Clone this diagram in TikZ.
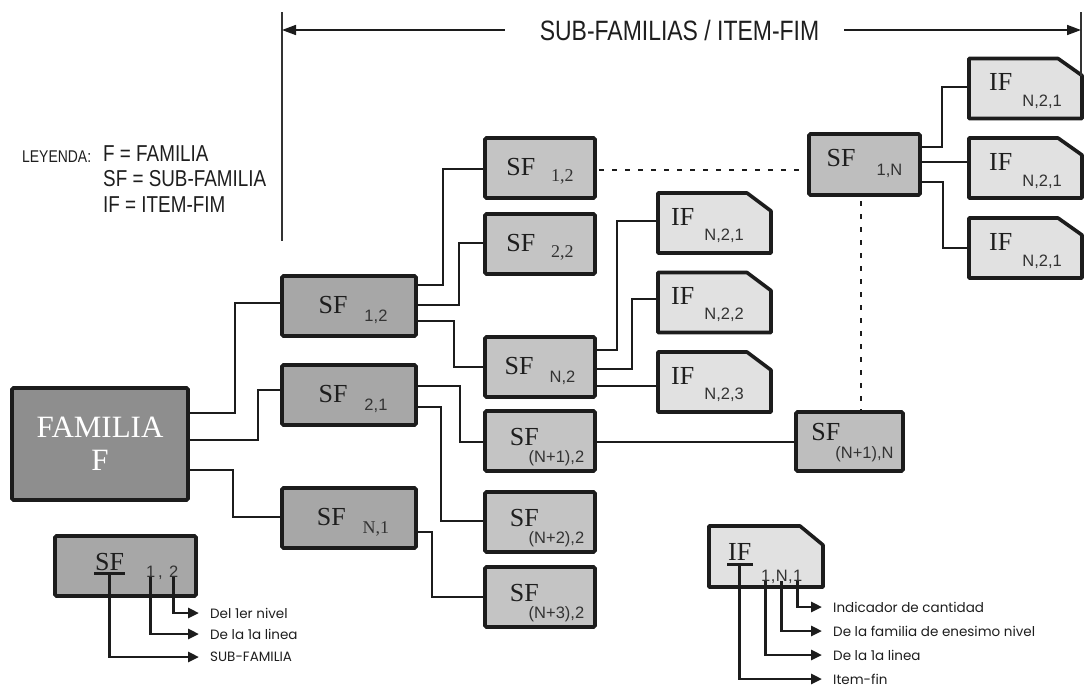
\documentclass[tikz,border=0pt]{standalone}
\usepackage{fontspec}
\setmainfont{Liberation Serif}
\newfontfamily\fSubFam{Liberation Sans}
\newfontfamily\fCondFam{Liberation Sans}[FakeStretch=0.82]
\newfontfamily\fPopFam{Poppins}
\usetikzlibrary{arrows.meta,calc,backgrounds}
\definecolor{famc}{HTML}{8E8E8E}
\definecolor{lonec}{HTML}{A7A7A7}
\definecolor{ltwoc}{HTML}{C4C4C4}
\definecolor{lthreec}{HTML}{BEBEBE}
\definecolor{ifc}{HTML}{E1E1E1}
\definecolor{edgec}{HTML}{1C1C1C}
\definecolor{textc}{HTML}{1E1E1E}
\definecolor{subc}{HTML}{333333}
\newcommand\fSub{\fSubFam\fontsize{16.5pt}{18pt}\selectfont}
\newcommand\fSubSer{\rmfamily\fontsize{18pt}{20pt}\selectfont}
\newcommand\fSer{\rmfamily\fontsize{26pt}{28pt}\selectfont}
\newcommand\boxlab[6]{\hspace*{#1}{\fSer #2}\hspace*{#3}\raisebox{-#4}{\fSub\color{subc}#5}\hspace*{#6}}
\newcommand\boxlabs[6]{\hspace*{#1}{\fSer #2}\hspace*{#3}\raisebox{-#4}{\fSubSer\color{subc}#5}\hspace*{#6}}
\begin{document}
\begin{tikzpicture}[x=1pt,y=-1pt,
  conn/.style={draw=edgec, line width=2.6pt},
  dots/.style={draw=edgec, line width=2.8pt, dash pattern=on 5pt off 8pt},
  thinl/.style={draw=subc, line width=1.6pt},
  hdrarr/.style={draw=edgec, line width=1.6pt, -{Triangle[length=14pt,width=10pt]}},
  legarr/.style={draw=edgec, line width=2.8pt, -{Triangle[length=11pt,width=10pt]}},
  bx/.style={draw=edgec, line width=3.6pt, rounded corners=1.5pt, inner sep=0pt, outer sep=0pt, text=textc},
  famb/.style={bx, fill=famc, minimum width=176pt, minimum height=112pt, align=center, text=white, font=\rmfamily\fontsize{31pt}{33pt}\selectfont},
  lone/.style={bx, fill=lonec, minimum width=134pt, minimum height=60pt},
  ltwo/.style={bx, fill=ltwoc, minimum width=110pt, minimum height=60pt},
  ifb/.style={inner sep=0pt, outer sep=0pt, minimum width=113pt, minimum height=60pt, text=textc},
  sideT/.style={text height=18pt, text depth=4pt},
  underT/.style={text height=18pt, text depth=10pt},
  ifT/.style={text height=18pt, text depth=14pt},
  legT/.style={inner sep=0pt, anchor=base west, text=textc, font=\fCondFam\fontsize{23pt}{25pt}\selectfont},
  legL/.style={anchor=west, inner xsep=11pt, inner ysep=0pt, text=textc, font=\fPopFam\fontsize{13.5pt}{15pt}\selectfont},
  glyph/.style={inner sep=0pt, anchor=base west, text=subc, font=\fSub},
  ifshape/.style={draw=edgec, line width=3.6pt, fill=ifc, line join=round}
]
\useasboundingbox (0,0) rectangle (1084,689);

% header
\node[inner xsep=0pt, inner ysep=0pt, text height=20pt, text depth=0pt, text=textc,
      font=\fCondFam\fontsize{28pt}{30pt}\selectfont] (hdr) at (679.5,30) {SUB-FAMILIAS / ITEM-FIM};
\coordinate (vL1) at (282,12);
\coordinate (vL2) at (282,241);
\coordinate (vR1) at (1081,12);
\coordinate (vR2) at (1081,76);
\draw[thinl] (vL1) -- (vL2);
\draw[thinl] (vR1) -- (vR2);
\draw[hdrarr] ([xshift=-35pt]hdr.west) -- (vL1 |- hdr.west);
\draw[hdrarr] ([xshift=25pt]hdr.east) -- (vR1 |- hdr.east);

% legend text
\node[legT, font=\fCondFam\fontsize{17pt}{19pt}\selectfont] (ley) at (22,162) {LEYENDA:};
\node[legT] (leyF) at (103,161) {F = FAMILIA};
\node[legT] (leySF) at (103,186) {SF = SUB-FAMILIA};
\node[legT] (leyIF) at (103,212) {IF = ITEM-FIM};

% main boxes
\node[famb] (F) at (100,444) {FAMILIA\\F};
\node[lone,sideT] (A12) at (349,306) {\boxlab{8pt}{SF}{17pt}{8pt}{1,2}{0pt}};
\node[lone,sideT] (A21) at (349,395) {\boxlab{8pt}{SF}{17pt}{8pt}{2,1}{0pt}};
\node[lone,sideT] (AN1) at (349,518) {\boxlabs{8pt}{SF}{17pt}{8pt}{N,1}{0pt}};

\node[ltwo,sideT] (B12) at (540,168) {\boxlabs{0pt}{SF}{16pt}{6pt}{1,2}{0pt}};
\node[ltwo,sideT] (B22) at (540,244) {\boxlabs{0pt}{SF}{16pt}{6pt}{2,2}{0pt}};
\node[ltwo,sideT] (BN2) at (540,367) {\boxlab{0pt}{SF}{16pt}{8pt}{N,2}{0pt}};
\node[ltwo,underT] (BN12) at (540,441) {\boxlab{14pt}{SF}{-10pt}{17pt}{(N+1),2}{0pt}};
\node[ltwo,underT] (BN22) at (540,522) {\boxlab{14pt}{SF}{-10pt}{17pt}{(N+2),2}{0pt}};
\node[ltwo,underT] (BN32) at (540,597) {\boxlab{14pt}{SF}{-10pt}{17pt}{(N+3),2}{0pt}};

\node[ifb,ifT] (I1) at (714.5,223) {\boxlab{0pt}{IF}{10pt}{15pt}{N,2,1}{14pt}};
\node[ifb,ifT] (I2) at (714.5,302.5) {\boxlab{0pt}{IF}{10pt}{15pt}{N,2,2}{14pt}};
\node[ifb,ifT] (I3) at (714.5,382) {\boxlab{0pt}{IF}{10pt}{15pt}{N,2,3}{14pt}};

\node[bx, fill=lthreec, minimum width=111pt, minimum height=61pt, text height=18pt, text depth=15pt] (C1N) at (864.5,164.5) {\boxlab{0pt}{SF}{21pt}{9pt}{1,N}{0pt}};
\node[bx, fill=lthreec, minimum width=107pt, minimum height=59pt, text height=18pt, text depth=21pt] (CN1N) at (849.5,441.5) {\boxlab{6pt}{SF}{-5pt}{18pt}{(N+1),N}{0pt}};

\node[ifb,ifT] (J1) at (1025.5,88.5) {\boxlab{0pt}{IF}{10pt}{16pt}{N,2,1}{0pt}};
\node[ifb,ifT] (J2) at (1025.5,168) {\boxlab{0pt}{IF}{10pt}{16pt}{N,2,1}{0pt}};
\node[ifb,ifT] (J3) at (1025.5,248) {\boxlab{0pt}{IF}{10pt}{16pt}{N,2,1}{0pt}};

% connectors
\draw[conn] (F.east|-0,413) -- (235,413) |- (A12.west|-0,303);
\draw[conn] (F.east|-0,440) -- (258,440) |- (A21.west|-0,390);
\draw[conn] (F.east|-0,470) -- (233,470) |- (AN1.west|-0,517);
\draw[conn] (A12.east|-0,285) -- (443,285) |- (B12.west|-0,169);
\draw[conn] (A12.east|-0,305) -- (459,305) |- (B22.west|-0,243);
\draw[conn] (A12.east|-0,321) -- (454,321) |- (BN2.west|-0,367);
\draw[conn] (A21.east|-0,386) -- (460,386) |- (BN12.west|-0,442);
\draw[conn] (A21.east|-0,407) -- (441,407) |- (BN22.west|-0,521);
\draw[conn] (AN1.east|-0,532) -- (432,532) |- (BN32.west|-0,597);
\draw[conn] (BN2.east|-0,350) -- (617,350) |- (I1.west|-0,221);
\draw[conn] (BN2.east|-0,369) -- (632,369) |- (I2.west|-0,299);
\draw[conn] (BN2.east|-0,386) -- (I3.west|-0,386);
\draw[conn] (BN12.east|-0,442) -- (CN1N.west|-0,442);
\draw[conn] (C1N.east|-0,147) -- (942,147) |- (J1.west|-0,87);
\draw[conn] (C1N.east|-0,162) -- (J2.west|-0,162);
\draw[conn] (C1N.east|-0,182) -- (943,182) |- (J3.west|-0,248);
\draw[dots] ([xshift=4pt]B12.east|-0,170) -- ([xshift=-6pt]C1N.west|-0,170);
\draw[dots] ([yshift=-6pt]861,0 |- C1N.south) -- (861,0 |- CN1N.north);

% legend: SF
\node[bx, fill=lonec, minimum width=141pt, minimum height=60pt] (LSF) at (125.5,566) {};
\node[glyph, text=textc, font=\fSer] (LsfT) at (95,570) {SF};
\node[glyph] (Ls1) at (146,577) {1};
\node[glyph] (Lsc) at (158,577) {,};
\node[glyph] (Ls2) at (169,577) {2};
\draw[line width=3pt, draw=edgec] ($(LsfT.base west)+(-1,3.5)$) -- ($(LsfT.base east)+(1,3.5)$);
\node[legL] (ll1) at (199,613) {Del 1er nivel};
\node[legL] (ll2) at (199,634) {De la 1a linea};
\node[legL] (ll3) at (199,657) {SUB-FAMILIA};
\draw[legarr] (Ls2.south) |- (ll1.west);
\draw[legarr] (Ls1.south) |- (ll2.west);
\draw[legarr] ($(LsfT.base)+(0,3.5)$) |- (ll3.west);

% legend: IF
\node[ifb, minimum width=114pt, minimum height=61pt] (LIF) at (766,556.5) {};
\node[glyph, text=textc, font=\fSer] (LifT) at (728,560) {IF};
\draw[line width=3pt, draw=edgec] ($(LifT.base west)+(-1,4)$) -- ($(LifT.base east)+(1,4)$);
\node[glyph] (q1) at (761,581) {1};
\node[glyph] (qc1) at (q1.base east) {,};
\node[glyph] (qN) at (qc1.base east) {N};
\node[glyph] (qc2) at (qN.base east) {,};
\node[glyph] (q3) at (qc2.base east) {1};
\node[legL] (lr1) at (822,607) {Indicador de cantidad};
\node[legL] (lr2) at (822,631) {De la familia de enesimo nivel};
\node[legL] (lr3) at (822,655) {De la 1a linea};
\node[legL] (lr4) at (822,679) {Item-fin};
\draw[legarr] (q3.south) |- (lr1.west);
\draw[legarr] (qN.south) |- (lr2.west);
\draw[legarr] (q1.south) |- (lr3.west);
\draw[legarr] ($(LifT.base)+(0,4)$) |- (lr4.west);

% IF shapes behind their texts
\begin{scope}[on background layer]
\foreach \n/\cx/\cy in {I1/24/18,I2/24/18,I3/24/18,J1/24/17,J2/24/17,J3/24/17,LIF/23/19} {
  \draw[ifshape] (\n.south west) |- ($(\n.north east)+(-\cx,0)$) -- ($(\n.north east)+(0,\cy)$) |- cycle;
}
\end{scope}
\end{tikzpicture}
\end{document}
